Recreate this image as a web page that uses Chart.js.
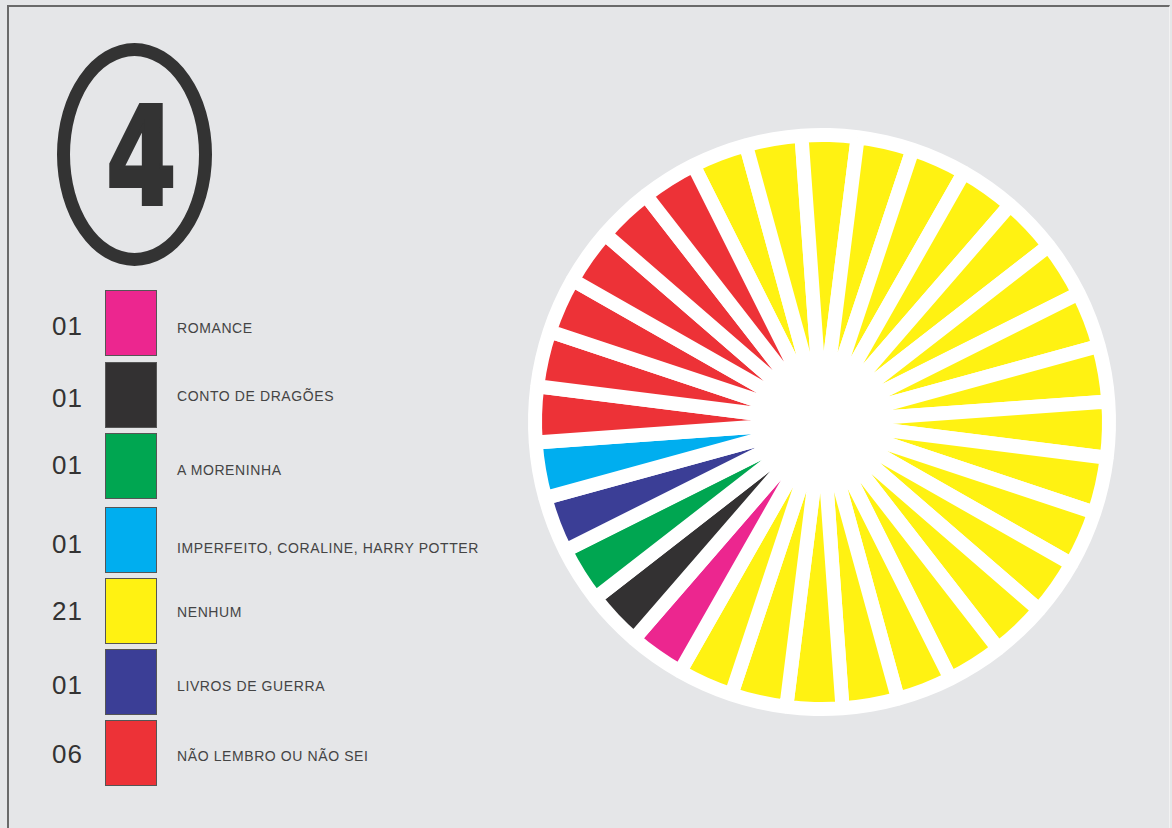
<!DOCTYPE html>
<html>
<head>
<meta charset="utf-8">
<script src="https://cdn.jsdelivr.net/npm/chart.js@4"></script>
<style>
    body{
        margin: 0;
        width: 1172px;
        height: 828px;
        background: #e5e6e8;
        font-family: "Liberation Sans", Arial, sans-serif;
        overflow: hidden;
        position: relative;
    }
    .frame{
        position: absolute;
        left: 7px; top: 5px; width: 1160px; height: 830px;
        border-left: 2px solid #6a6a6a;
        border-top: 2px solid #6a6a6a;
        border-right: 1px solid #f2f2f2;
    }
    .badge{
        position: absolute;
        left: 57px; top: 43px;
        width: 129px; height: 197px;
        border: 13px solid #333333;
        border-radius: 50%;
        display: flex;
        align-items: center;
        justify-content: center;
    }
    .badge span{
        font-family: "DejaVu Sans", sans-serif;
        font-weight: bold;
        font-size: 136px;
        color: #333333;
        -webkit-text-stroke: 4px #333333;
        transform: scale(0.74, 1.0);
        line-height: 1;
        margin-top: 4px;
        margin-left: 14px;
    }
    .row{
        position: absolute;
        left: 0;
        height: 65px;
    }
    .row .num{
        position: absolute;
        left: 52px;
        width: 40px;
        font-size: 26px;
        letter-spacing: 1px;
        color: #333;
        text-align: left;
    }
    .row .box{
        position: absolute;
        left: 105px; top: 0;
        width: 50px; height: 64px;
        border: 1px solid #555;
    }
    .row .label{
        position: absolute;
        left: 177px;
        font-size: 14px;
        letter-spacing: 0.6px;
        color: #444;
        white-space: nowrap;
    }
    #wheel{
        position: absolute;
        left: 522px; top: 122px;
        width: 600px; height: 600px;
    }
</style>
</head>
<body>
<div class="frame"></div>
<div class="badge"><span>4</span></div>
<div id="legend"></div>
<div id="wheel"><canvas id="wheel-chart"></canvas></div>

<script>
const categories = ["ROMANCE", "CONTO DE DRAGÕES", "A MORENINHA", "IMPERFEITO, CORALINE, HARRY POTTER", "NENHUM", "LIVROS DE GUERRA", "NÃO LEMBRO OU NÃO SEI"];
const counts = [1, 1, 1, 1, 21, 1, 6];
const countLabels = ["01", "01", "01", "01", "21", "01", "06"];
const colors = ["#ec268f", "#333132", "#00a651", "#00aeef", "#fff212", "#3b3e96", "#ed3237"];
// order of the categories around the wheel, clockwise
const wheelOrder = [4, 0, 1, 2, 5, 3, 6];

document.addEventListener("DOMContentLoaded", () => {
    // legend rows
    const rowTops = [290, 362, 433, 507, 578, 649, 720];
    const numOffsets = [21, 21, 17, 22, 18, 21, 19];
    const labelOffsets = [30, 26, 29, 33, 26, 29, 28];
    let legendHtml = "";
    categories.forEach((cat, i) => {
        legendHtml +=
            `<div class="row" style="top:${rowTops[i]}px">
                <div class="num" style="top:${numOffsets[i]}px">${countLabels[i]}</div>
                <div class="box" style="background:${colors[i]}"></div>
                <div class="label" style="top:${labelOffsets[i]}px">${cat}</div>
            </div>`;
    });
    document.getElementById("legend").innerHTML = legendHtml;

    // one unit slice per answer
    let sliceLabels = [];
    let sliceValues = [];
    let sliceColors = [];
    wheelOrder.forEach(idx => {
        for(let k = 0; k < counts[idx]; k++){
            sliceLabels.push(categories[idx]);
            sliceValues.push(1);
            sliceColors.push(colors[idx]);
        }
    });

    const whiteDisc = {
        id: "whiteDisc",
        beforeDatasetsDraw(chart){
            const arc = chart.getDatasetMeta(0).data[0];
            if(!arc) return;
            const ctx = chart.ctx;
            ctx.save();
            ctx.beginPath();
            ctx.arc(arc.x, arc.y, arc.outerRadius + 5, 0, Math.PI * 2);
            ctx.fillStyle = "#ffffff";
            ctx.fill();
            ctx.restore();
        }
    };

    new Chart(document.getElementById("wheel-chart"), {
        type: "pie",
        data: {
            labels: sliceLabels,
            datasets: [{
                data: sliceValues,
                backgroundColor: sliceColors,
                borderColor: "#ffffff",
                borderWidth: 14
            }]
        },
        options: {
            responsive: true,
            maintainAspectRatio: false,
            animation: false,
            rotation: -26.6,
            layout: { padding: 6 },
            plugins: {
                legend: { display: false },
                tooltip: { enabled: false }
            }
        },
        plugins: [whiteDisc]
    });
});
</script>
</body>
</html>
